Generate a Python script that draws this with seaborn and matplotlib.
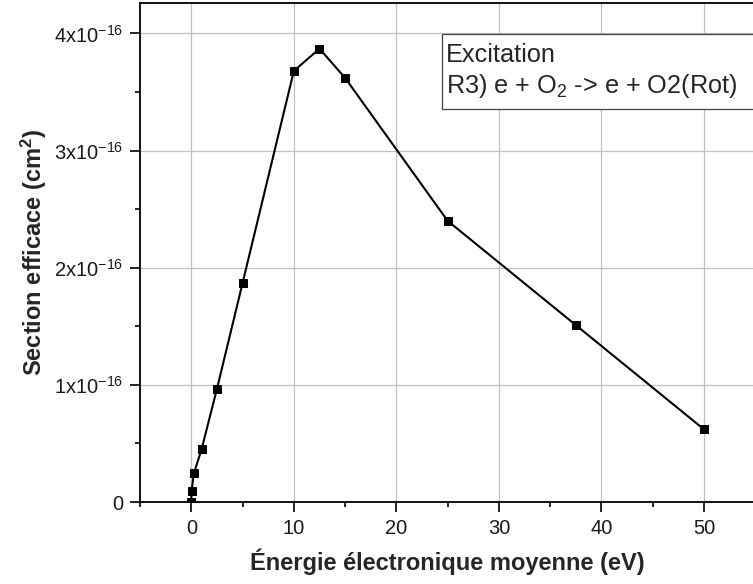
import matplotlib
matplotlib.use("Agg")
import matplotlib.pyplot as plt
import matplotlib.patches as mpatches
import seaborn as sns
from matplotlib.ticker import MultipleLocator

sns.set_style("whitegrid")
plt.rcParams['font.family'] = ['Liberation Sans', 'DejaVu Sans']
plt.rcParams['mathtext.fontset'] = 'custom'
plt.rcParams['mathtext.rm'] = 'Liberation Sans'
plt.rcParams['mathtext.bf'] = 'Liberation Sans:bold'

# energie moyenne (eV) et section efficace (cm2)
energy = [0, 0.02, 0.25, 1, 2.5, 5, 10, 12.5, 15, 25, 37.5, 50]
cross_section = [0.0, 0.094e-16, 0.245e-16, 0.45e-16, 0.966e-16, 1.87e-16,
                 3.68e-16, 3.87e-16, 3.62e-16, 2.40e-16, 1.51e-16, 0.62e-16]

y_ticks = [0, 1e-16, 2e-16, 3e-16, 4e-16]
y_tick_labels = ['0', r'1x10$^{-16}$', r'2x10$^{-16}$', r'3x10$^{-16}$', r'4x10$^{-16}$']
x_ticks = [0, 10, 20, 30, 40, 50]

fig = plt.figure(figsize=(7.53, 5.84), dpi=100)
ax = fig.add_axes([0.186, 0.1404, 0.817, 0.8545])

sns.lineplot(x=energy, y=cross_section, ax=ax, color='black', linewidth=1.5,
             marker='s', markersize=5.5, markeredgecolor='black', markerfacecolor='black')

ax.set_xlim(-5, 55)
ax.set_ylim(0, 4.26e-16)
ax.set_xticks(x_ticks)
ax.set_yticks(y_ticks)
ax.set_yticklabels(y_tick_labels)
ax.xaxis.set_minor_locator(MultipleLocator(5))
ax.yaxis.set_minor_locator(MultipleLocator(0.5e-16))
ax.tick_params(axis='both', which='major', direction='out', length=7, width=1.2,
               labelsize=14.5, color='black', labelcolor='#1a1a1a', left=True, bottom=True, pad=5)
ax.tick_params(axis='both', which='minor', direction='out', length=3.5, width=1.2,
               color='black', left=True, bottom=True)

ax.grid(True, which='major', color='#c0c0c0', linewidth=0.9)
ax.grid(False, which='minor')
for side in ['left', 'bottom', 'top', 'right']:
    ax.spines[side].set_visible(True)
    ax.spines[side].set_color('black')
    ax.spines[side].set_linewidth(1.3)

ax.set_xlabel('Énergie électronique moyenne (eV)', fontsize=17, fontweight='bold', labelpad=8)
ax.set_ylabel(r'Section efficace (cm$\mathbf{^{2}}$)', fontsize=17, fontweight='bold', labelpad=4)

# boite de legende (coupee au bord droit comme l'original)
box = mpatches.Rectangle((0.491, 0.788), 0.55, 0.150, transform=ax.transAxes,
                         facecolor='white', edgecolor='#444444', linewidth=0.9, zorder=5)
ax.add_patch(box)
ax.text(0.497, 0.882, 'Excitation', transform=ax.transAxes,
        fontsize=18.2, va='baseline', ha='left', zorder=6)
ax.text(0.497, 0.820, 'R3) e + O$_2$ -> e + O2(Rot)', transform=ax.transAxes,
        fontsize=18.2, va='baseline', ha='left', zorder=6)

plt.savefig('out.png', dpi=100)
